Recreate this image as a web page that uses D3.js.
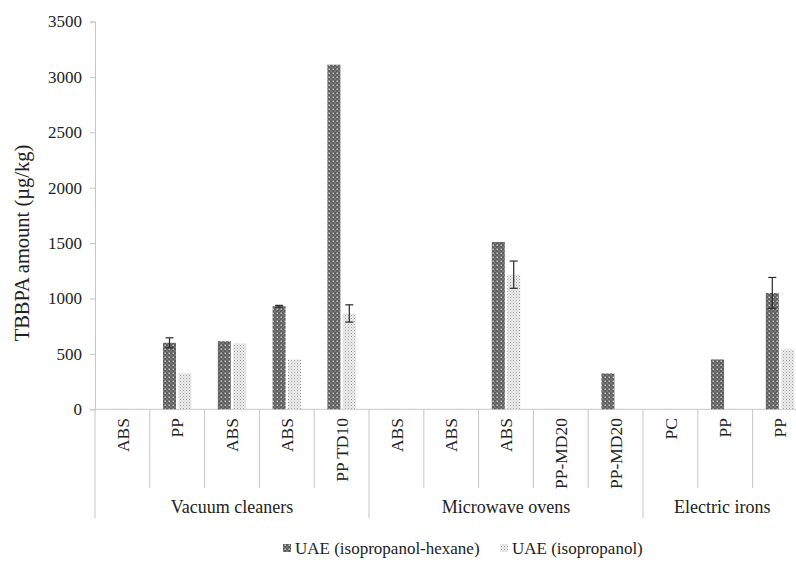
<!DOCTYPE html>
<html><head><meta charset="utf-8">
<script src="https://cdn.jsdelivr.net/npm/d3@7"></script>
<style>body{margin:0;background:#fff;} svg{display:block;} text{font-family:"Liberation Serif","Times New Roman",serif;fill:#222;}</style>
</head><body>
<svg id="chart" width="796" height="572"></svg>
<script>
const categories = ["ABS","PP","ABS","ABS","PP TD10","ABS","ABS","ABS","PP-MD20","PP-MD20","PC","PP","PP"];
const groups = [{name:"Vacuum cleaners",count:5},{name:"Microwave ovens",count:5},{name:"Electric irons",count:3}];
const seriesNames = ["UAE (isopropanol-hexane)","UAE (isopropanol)"];
const hexaneValues = [0,600,615,930,3110,0,0,1510,0,324,0,450,1050];
const isopropanolValues = [0,325,595,450,865,0,0,1215,0,0,0,0,542];
const hexaneErrors = [0,45,0,8,0,0,0,0,0,0,0,0,140];
const isopropanolErrors = [0,0,0,0,78,0,0,123,0,0,0,0,0];
const yTicks = [0,500,1000,1500,2000,2500,3000,3500];

const svg = d3.select("#chart");
const defs = svg.append("defs");
const p1 = defs.append("pattern").attr("id","pDark").attr("patternUnits","userSpaceOnUse").attr("width",4).attr("height",4);
p1.append("rect").attr("width",4).attr("height",4).attr("fill","#5e5e5e");
p1.append("rect").attr("x",0.5).attr("y",0.5).attr("width",1.5).attr("height",1.5).attr("fill","#c9c9c9");
p1.append("rect").attr("x",2.5).attr("y",2.5).attr("width",1.2).attr("height",1.2).attr("fill","#a0a0a0");
const p2 = defs.append("pattern").attr("id","pLight").attr("patternUnits","userSpaceOnUse").attr("width",3).attr("height",3);
p2.append("rect").attr("width",3).attr("height",3).attr("fill","#eeeeee");
p2.append("rect").attr("x",0).attr("y",0).attr("width",1).attr("height",1).attr("fill","#9a9a9a");
p2.append("rect").attr("x",1.5).attr("y",1.5).attr("width",1).attr("height",1).attr("fill","#bcbcbc");

const x0 = 95, bandW = 54.8;
const x = d3.scaleBand().domain(d3.range(categories.length)).range([x0, x0 + bandW*categories.length]).padding(0);
const inner = d3.scaleBand().domain([0,1]).range([0, x.bandwidth()]).paddingInner(0.156).paddingOuter(0.857);
const y = d3.scaleLinear().domain([0,3500]).range([409.3, 21.5]);

const grid = "#c6c6c6";
// y axis
const yAxis = d3.axisLeft(y).tickValues(yTicks).tickSize(5).tickPadding(8).tickFormat(d3.format("d"));
const gy = svg.append("g").attr("transform",`translate(${x0},0)`).call(yAxis);
gy.select(".domain").attr("stroke",grid);
gy.selectAll(".tick line").attr("stroke",grid);
gy.selectAll(".tick text").attr("font-family","Liberation Serif").attr("font-size",17).attr("fill","#222");

// x axis line
svg.append("line").attr("x1",x0).attr("x2",x0 + bandW*categories.length).attr("y1",y(0)).attr("y2",y(0)).attr("stroke",grid);

// dividers
const groupStarts = [];
let acc = 0; groups.forEach(g=>{groupStarts.push(acc); acc+=g.count;});
d3.range(categories.length+1).forEach(i=>{
  const isGroup = groupStarts.includes(i) || i===categories.length;
  const xx = i < categories.length ? x(i) : x0 + bandW*categories.length;
  svg.append("line").attr("x1",xx).attr("x2",xx).attr("y1",y(0)).attr("y2",isGroup?518:488).attr("stroke",grid);
});

// category labels
svg.append("g").selectAll("text").data(categories).join("text")
  .attr("transform",(d,i)=>`translate(${x(i)+x.bandwidth()/2},418) rotate(-90)`)
  .attr("text-anchor","end").attr("dy","0.35em").attr("font-size",17.5).text(d=>d);

// group labels
svg.append("g").selectAll("text").data(groups).join("text")
  .attr("x",(g,i)=>{const s=groupStarts[i]; return x(s) + bandW*g.count/2 - (g.count===3?3:0);})
  .attr("y",513).attr("text-anchor","middle").attr("font-size",18).text(g=>g.name);

// bars
const data = categories.map((c,i)=>({i, vals:[hexaneValues[i], isopropanolValues[i]], errs:[hexaneErrors[i], isopropanolErrors[i]]}));
const fills = ["url(#pDark)","url(#pLight)"];
const gb = svg.append("g");
data.forEach(d=>{
  d.vals.forEach((v,s)=>{
    if(v<=0) return;
    const bx = x(d.i)+inner(s);
    gb.append("rect").attr("x",bx).attr("y",y(v)).attr("width",inner.bandwidth()).attr("height",y(0)-y(v)).attr("fill",fills[s]);
  });
});
// error bars
data.forEach(d=>{
  d.errs.forEach((e,s)=>{
    if(e<=0) return;
    const cx = x(d.i)+inner(s)+inner.bandwidth()/2;
    const v = d.vals[s];
    const g = gb.append("g").attr("stroke","#2a2a2a").attr("stroke-width",1.2);
    g.append("line").attr("x1",cx).attr("x2",cx).attr("y1",y(v+e)).attr("y2",y(v-e));
    g.append("line").attr("x1",cx-4).attr("x2",cx+4).attr("y1",y(v+e)).attr("y2",y(v+e));
    g.append("line").attr("x1",cx-4).attr("x2",cx+4).attr("y1",y(v-e)).attr("y2",y(v-e));
  });
});

// y title
svg.append("text").attr("transform","translate(29,243) rotate(-90)").attr("text-anchor","middle")
  .attr("font-size",20.5).text("TBBPA amount (µg/kg)");

// legend
const legendX = [283, 500];
seriesNames.forEach((n,s)=>{
  svg.append("rect").attr("x",legendX[s]).attr("y",544).attr("width",8).attr("height",8).attr("fill",fills[s]);
  svg.append("text").attr("x",legendX[s]+12).attr("y",554).attr("font-size",17).text(n);
});
</script>
</body></html>
